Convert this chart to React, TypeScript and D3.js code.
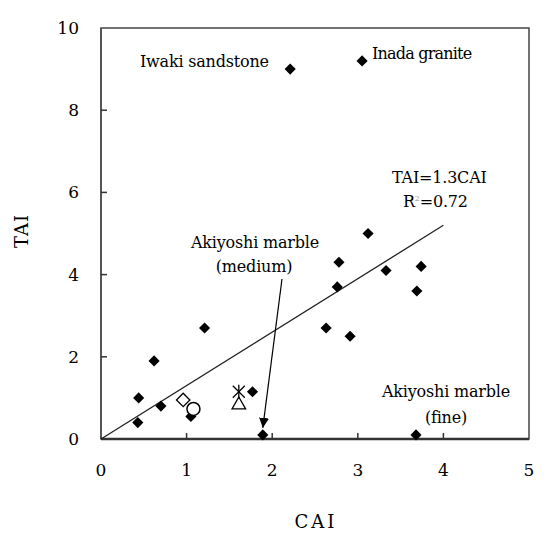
import React, { useEffect, useRef } from "react";
import * as d3 from "d3";

// filled diamonds: [CAI, TAI]
const rockCAI = [2.21, 3.05, 3.12, 2.78, 2.76, 3.33, 3.74, 3.69, 2.63, 2.91, 1.21, 0.62, 0.44, 0.43, 0.70, 1.05, 1.77, 1.89, 3.68];
const rockTAI = [9.0, 9.2, 5.0, 4.3, 3.7, 4.1, 4.2, 3.6, 2.7, 2.5, 2.7, 1.9, 1.0, 0.4, 0.8, 0.55, 1.15, 0.1, 0.1];

// open / other markers
const openDiamond = [0.96, 0.95];
const openCircle = [1.08, 0.73];
const openTriangle = [1.61, 0.83];
const asterisk = [1.61, 1.15];

const fitSlope = 1.3;
const fitRange = [0, 4.0];

const xTicks = [0, 1, 2, 3, 4, 5];
const yTicks = [0, 2, 4, 6, 8, 10];

const FONT = "'DejaVu Serif', serif";

export default function App() {
  const ref = useRef<SVGSVGElement>(null);

  useEffect(() => {
    const svg = d3.select(ref.current);
    svg.selectAll("*").remove();

    const x = d3.scaleLinear().domain([0, 5]).range([101, 529]);
    const y = d3.scaleLinear().domain([0, 10]).range([439, 28]);

    svg.append("rect").attr("width", 557).attr("height", 549).attr("fill", "#fff");

    // frame
    svg.append("rect")
      .attr("x", x(0)).attr("y", y(10))
      .attr("width", x(5) - x(0)).attr("height", y(0) - y(10))
      .attr("fill", "none").attr("stroke", "#444").attr("stroke-width", 1.5);
    svg.append("line").attr("x1", x(0)).attr("x2", x(0)).attr("y1", y(10)).attr("y2", y(0))
      .attr("stroke", "#555").attr("stroke-width", 2);
    svg.append("line").attr("x1", x(0)).attr("x2", x(5)).attr("y1", y(0)).attr("y2", y(0))
      .attr("stroke", "#333").attr("stroke-width", 2.5);

    // ticks (inward)
    svg.selectAll(".xt").data(xTicks.slice(1, -1)).enter().append("line")
      .attr("x1", (d) => x(d)).attr("x2", (d) => x(d))
      .attr("y1", y(0)).attr("y2", y(0) - 6)
      .attr("stroke", "#333").attr("stroke-width", 1.5);
    svg.selectAll(".yt").data(yTicks.slice(1, -1)).enter().append("line")
      .attr("x1", x(0)).attr("x2", x(0) + 6)
      .attr("y1", (d) => y(d)).attr("y2", (d) => y(d))
      .attr("stroke", "#333").attr("stroke-width", 1.5);

    // tick labels
    svg.selectAll(".xl").data(xTicks).enter().append("text")
      .attr("x", (d) => x(d)).attr("y", y(0) + 37)
      .attr("text-anchor", "middle").attr("font-family", FONT).attr("font-size", 17)
      .text((d) => d);
    svg.selectAll(".yl").data(yTicks).enter().append("text")
      .attr("x", x(0) - 22).attr("y", (d) => y(d) + 6)
      .attr("text-anchor", "end").attr("font-family", FONT).attr("font-size", 17)
      .text((d) => d);

    // axis titles
    svg.append("text").attr("x", 316).attr("y", 528)
      .attr("text-anchor", "middle").attr("font-family", FONT).attr("font-size", 18)
      .attr("letter-spacing", 3).text("CAI");
    svg.append("text").attr("transform", "translate(28,231) rotate(-90)")
      .attr("text-anchor", "middle").attr("font-family", FONT).attr("font-size", 18)
      .attr("letter-spacing", 1).text("TAI");

    // regression line
    svg.append("line")
      .attr("x1", x(fitRange[0])).attr("y1", y(fitRange[0] * fitSlope))
      .attr("x2", x(fitRange[1])).attr("y2", y(fitRange[1] * fitSlope))
      .attr("stroke", "#222").attr("stroke-width", 1.3);

    // filled diamonds
    const dia = d3.symbol().type(d3.symbolSquare).size(62)();
    svg.selectAll(".pt").data(rockCAI).enter().append("path")
      .attr("d", dia)
      .attr("transform", (d, i) => `translate(${x(d)},${y(rockTAI[i])}) rotate(45)`)
      .attr("fill", "#000");

    // open markers
    svg.append("path")
      .attr("d", d3.symbol().type(d3.symbolSquare).size(90)())
      .attr("transform", `translate(${x(openDiamond[0])},${y(openDiamond[1])}) rotate(45)`)
      .attr("fill", "#fff").attr("stroke", "#000").attr("stroke-width", 1.3);
    svg.append("circle")
      .attr("cx", x(openCircle[0])).attr("cy", y(openCircle[1])).attr("r", 6.5)
      .attr("fill", "#fff").attr("stroke", "#000").attr("stroke-width", 1.5);
    svg.append("path")
      .attr("d", d3.symbol().type(d3.symbolTriangle).size(80)())
      .attr("transform", `translate(${x(openTriangle[0])},${y(openTriangle[1])})`)
      .attr("fill", "#fff").attr("stroke", "#000").attr("stroke-width", 1.3);
    const ax = x(asterisk[0]), ay = y(asterisk[1]);
    const ag = svg.append("g").attr("stroke", "#000").attr("stroke-width", 1.3);
    ag.append("line").attr("x1", ax - 6).attr("y1", ay - 6).attr("x2", ax + 6).attr("y2", ay + 6);
    ag.append("line").attr("x1", ax - 6).attr("y1", ay + 6).attr("x2", ax + 6).attr("y2", ay - 6);
    ag.append("line").attr("x1", ax).attr("y1", ay - 7).attr("x2", ax).attr("y2", ay + 7);

    // annotations
    const txt = (tx: number, ty: number, s: string, anchor = "middle") =>
      svg.append("text").attr("x", tx).attr("y", ty).attr("text-anchor", anchor)
        .attr("font-family", FONT).attr("font-size", 16).attr("letter-spacing", -0.2).text(s);

    txt(140, 67, "Iwaki sandstone", "start");
    txt(372, 59, "Inada granite", "start").attr("letter-spacing", -0.8);
    txt(392, 183, "TAI=1.3CAI", "start");
    const r2 = txt(403, 207, "R", "start");
    r2.append("tspan").attr("font-size", 8).attr("dy", -6).attr("fill", "#999").text("2");
    r2.append("tspan").attr("dy", 6).text("=0.72");
    txt(255, 248, "Akiyoshi marble");
    txt(254, 272, "(medium)");
    txt(446, 397, "Akiyoshi marble");
    txt(446, 423, "(fine)");

    // arrow
    const defs = svg.append("defs");
    defs.append("marker").attr("id", "ah").attr("viewBox", "0 0 10 10")
      .attr("refX", 10).attr("refY", 5).attr("markerWidth", 10).attr("markerHeight", 14)
      .attr("markerUnits", "userSpaceOnUse").attr("orient", "auto")
      .append("path").attr("d", "M0,0L10,5L0,10Z").attr("fill", "#000");
    svg.append("line")
      .attr("x1", 282).attr("y1", 279)
      .attr("x2", x(rockCAI[17])).attr("y2", y(rockTAI[17]) - 7)
      .attr("stroke", "#000").attr("stroke-width", 1.2).attr("marker-end", "url(#ah)");
  }, []);

  return <svg ref={ref} width={557} height={549} style={{ position: "absolute", left: 0, top: 0 }} />;
}
